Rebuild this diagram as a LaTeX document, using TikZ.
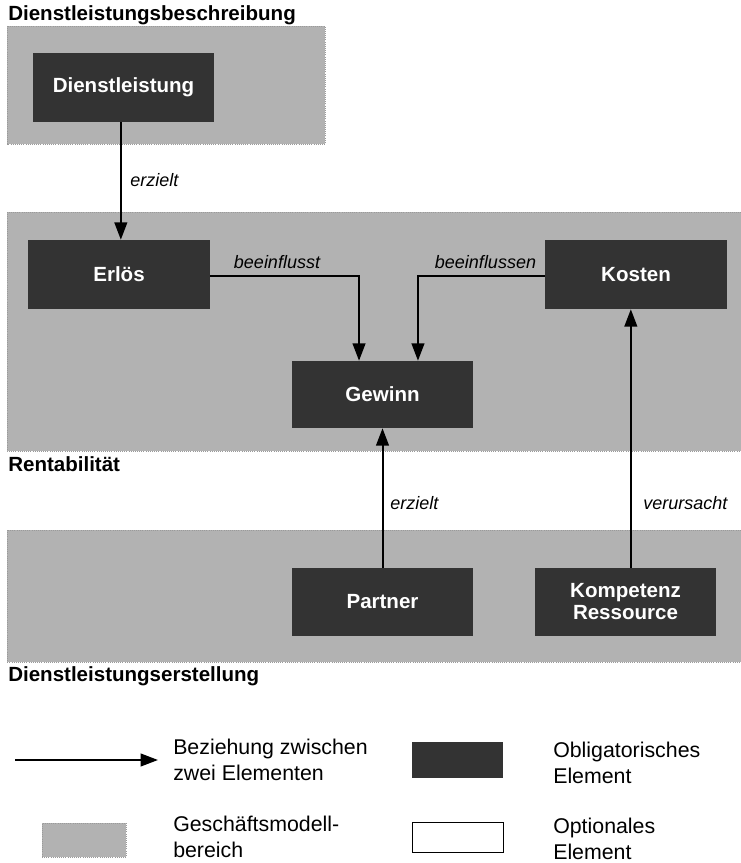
\documentclass[tikz,border=0pt]{standalone}
\usepackage{fontspec}
\setmainfont{Liberation Sans}
\usetikzlibrary{arrows.meta}
\definecolor{areagray}{HTML}{B2B2B2}
\definecolor{areaedge}{HTML}{9A9A9A}
\definecolor{elemdark}{HTML}{333333}
\tikzset{
  area/.style={fill=areagray, draw=areaedge, densely dotted, line width=0.6pt},
  elem/.style={fill=elemdark, draw=none, text=white, font=\fontsize{15.4}{17.5}\selectfont\bfseries,
    align=center, inner sep=0pt},
  elemsize/.style 2 args={minimum width=#1*0.75pt, minimum height=#2*0.75pt},
  rel/.style={line width=1.5pt, -{Triangle[length=13pt,width=9.5pt]}},
  rellabel/.style={font=\fontsize{13.5}{16}\selectfont\itshape, inner sep=0pt},
  section/.style={font=\fontsize{15.4}{17.5}\selectfont\bfseries, anchor=west, inner sep=0pt},
  legendtext/.style={font=\fontsize{16}{19.5}\selectfont, align=left, anchor=west, inner sep=0pt},
}
\begin{document}
\begin{tikzpicture}[x=0.75pt, y=-0.75pt]
\useasboundingbox (0,0) rectangle (741,863);

% business model areas
\path[area] (7,26) rectangle (325,144);
\path[area] (7,212) rectangle (741,451);
\path[area] (7,530) rectangle (741,662);

\node[section] (tbeschr) at (8,15) {Dienstleistungsbeschreibung};
\node[section] (trent) at (8,464) {Rentabilität};
\node[section] (terst) at (8,676) {Dienstleistungserstellung};

% elements
\node[elem, elemsize={181}{69}] (dl)  at (123.5,87.5) {Dienstleistung};
\node[elem, elemsize={182}{69}] (erl) at (119,274.5) {Erlös};
\node[elem, elemsize={182}{69}] (kos) at (636,274.5) {Kosten};
\node[elem, elemsize={181}{67}] (gew) at (382.5,394.5) {Gewinn};
\node[elem, elemsize={181}{68}] (par) at (382.5,602) {Partner};
\node[elem, elemsize={181}{68}] (kr)  at (625.5,602) {Kompetenz\\[-1pt]Ressource};

% relations
\draw[rel] ([xshift=-2pt]dl.south) -- ([xshift=-2pt]dl.south |- erl.north);
\draw[rel] ([yshift=-1pt]erl.east) -| ([xshift=-17.6pt]gew.north);
\draw[rel] ([yshift=-1pt]kos.west) -| ([xshift=26.6pt]gew.north);
\draw[rel] (par.north) -- (gew.south);
\draw[rel] ([xshift=4pt]kr.north) -- ([xshift=4pt]kr.north |- kos.south);

\node[rellabel, anchor=west] (l1) at (130,180) {erzielt};
\node[rellabel] (l2) at (277,262) {beeinflusst};
\node[rellabel] (l3) at (485.5,262) {beeinflussen};
\node[rellabel, anchor=west] (l4) at (390,503) {erzielt};
\node[rellabel, anchor=west] (l5) at (643,503) {verursacht};

% legend
\coordinate (la) at (15,760);
\coordinate (lb) at (158,760);
\draw[rel] (la) -- (lb);
\node[legendtext] (lgrel) at (173,760) {Beziehung zwischen\\zwei Elementen};
\node[fill=elemdark, inner sep=0pt, elemsize={91}{36}] (lgdark) at (457.5,760) {};
\node[legendtext] (lgob) at (553,763) {Obligatorisches\\Element};
\node[area, inner sep=0pt, elemsize={84}{34}] (lggray) at (84,840) {};
\node[legendtext] (lgarea) at (173,837) {Geschäftsmodell-\\bereich};
\node[draw=black, line width=0.6pt, fill=white, inner sep=0pt, elemsize={91}{30}] (lgwhite) at (457.5,837) {};
\node[legendtext] (lgopt) at (553,839) {Optionales\\Element};
\end{tikzpicture}
\end{document}
